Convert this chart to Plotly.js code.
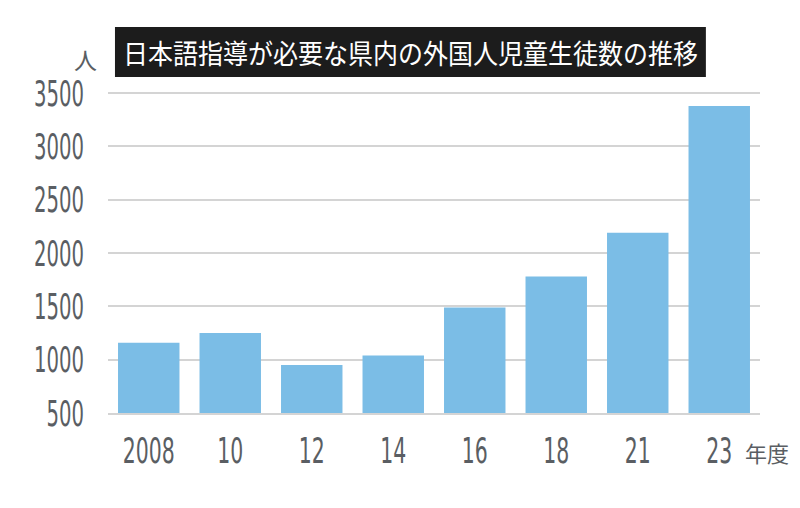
<!DOCTYPE html>
<html>
<head>
<meta charset="utf-8">
<script src="https://cdn.plot.ly/plotly-3.0.1.min.js"></script>
<style>
  body { margin: 0; background: #ffffff; }
  #container { width: 800px; height: 508px; }
</style>
</head>
<body>
<div id="container"></div>
<script>
// 日本語指導が必要な県内の外国人児童生徒数（人）
const years = ["2008", "10", "12", "14", "16", "18", "21", "23"];
const students = [1160, 1250, 950, 1040, 1490, 1780, 2190, 3380];
const yTicks = [500, 1000, 1500, 2000, 2500, 3000, 3500];

const titleText = "日本語指導が必要な県内の外国人児童生徒数の推移";
const unitText = "人";
const yearUnitText = "年度";

const grey = "#5a5e63";
const digitFont = "'Liberation Sans Narrow', 'DejaVu Sans Condensed', 'Liberation Sans', sans-serif";
const jpFont = "'Noto Sans CJK JP', sans-serif";

// squeeze the text so it looks like the condensed print font
const squeeze = (els, perChar) => {
  els.forEach((el) => {
    let n = el.textContent.length;
    el.setAttribute("textLength", n * perChar);
    el.setAttribute("lengthAdjust", "spacingAndGlyphs");
  });
};

const draw = () => {
  let data = [
    {
      x: years,
      y: students,
      type: "bar",
      marker: { color: "#7bbde6" },
      hoverinfo: "x+y"
    }
  ];

  let layout = {
    width: 800,
    height: 508,
    margin: { l: 108, r: 40, t: 91, b: 95, pad: 0 },
    paper_bgcolor: "#ffffff",
    plot_bgcolor: "#ffffff",
    showlegend: false,
    bargap: 0.246,
    xaxis: {
      type: "category",
      range: [-0.5, 7.5],
      showgrid: false,
      zeroline: false,
      showline: true,
      linecolor: "#d4d4d4",
      linewidth: 2,
      ticks: "",
      ticklabelstandoff: 5,
      tickfont: { family: digitFont, size: 36, color: grey }
    },
    yaxis: {
      range: [500, 3520],
      tickvals: yTicks,
      ticktext: yTicks.map(String),
      showgrid: true,
      gridcolor: "#d4d4d4",
      gridwidth: 2,
      zeroline: false,
      showline: false,
      ticks: "",
      ticklabelstandoff: 23,
      tickfont: { family: digitFont, size: 36, color: grey }
    },
    // black title plate
    shapes: [
      {
        type: "rect",
        xref: "paper",
        yref: "paper",
        x0: 0.0107,
        x1: 0.917,
        y0: 1.0435,
        y1: 1.199,
        fillcolor: "#1c1c1c",
        line: { width: 0 }
      }
    ],
    annotations: [
      {
        text: titleText,
        xref: "paper",
        yref: "paper",
        x: 0.464,
        y: 1.121,
        xanchor: "center",
        yanchor: "middle",
        showarrow: false,
        font: { family: jpFont, size: 27, color: "#ffffff" }
      },
      {
        text: unitText,
        xref: "paper",
        yref: "paper",
        x: -0.035,
        y: 1.1,
        xanchor: "center",
        yanchor: "middle",
        showarrow: false,
        font: { family: jpFont, size: 23, color: grey }
      },
      {
        text: yearUnitText,
        xref: "paper",
        yref: "paper",
        x: 1.0115,
        y: -0.12,
        xanchor: "center",
        yanchor: "middle",
        showarrow: false,
        font: { family: jpFont, size: 22, color: grey }
      }
    ]
  };

  Plotly.newPlot("container", data, layout, { displayModeBar: false, staticPlot: true }).then(() => {
    squeeze(document.querySelectorAll(".xtick text"), 13);
    squeeze(document.querySelectorAll(".ytick text"), 12.5);
    squeeze([document.querySelectorAll(".annotation-text")[0]], 25);
  });
};

draw();
</script>
</body>
</html>
